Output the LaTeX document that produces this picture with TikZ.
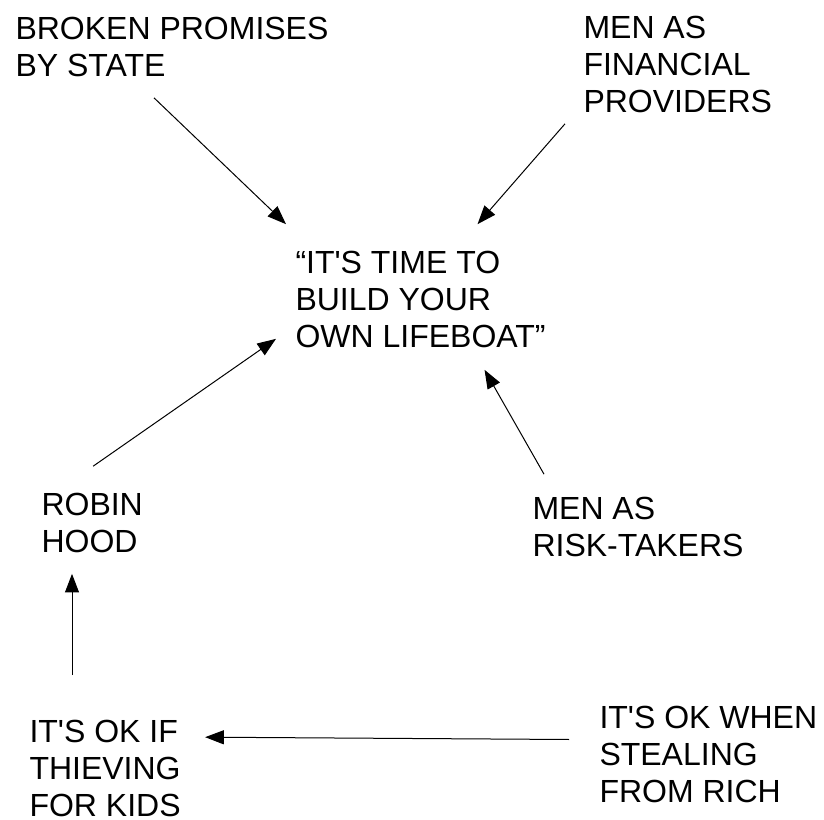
\documentclass[tikz,border=0pt]{standalone}
\usepackage{fontspec}
\setmainfont{Liberation Sans}
\usepackage{tikz}
\usetikzlibrary{arrows.meta}
\tikzset{every picture/.style={line width=0.75pt}}
\tikzset{idea/.style={inner sep=0pt, anchor=base west, align=left, font=\fontsize{24}{27.75}\selectfont},
  arr/.style={-{Triangle[length=14pt,width=10.5pt]}}}
\newcommand{\ap}{\textquotesingle}

\begin{document}
\begin{tikzpicture}[x=0.75pt,y=0.75pt,yscale=-1,xscale=1]
%set diagram size
\path[use as bounding box] (0,0) rectangle (824,819);

%Text nodes (placed at baseline of last line)
\node[idea] (broken) at (15,76) {BROKEN PROMISES\\BY STATE};
\node[idea] (provid) at (583,112) {MEN AS\\FINANCIAL\\PROVIDERS};
\node[idea] (lifeboat) at (295,347) {“IT\ap S TIME TO\\BUILD YOUR\\OWN LIFEBOAT”};
\node[idea] (robin) at (41,552) {ROBIN\\HOOD};
\node[idea] (risk) at (532,556) {MEN AS\\RISK-TAKERS};
\node[idea] (kidsok) at (29,816) {IT\ap S OK IF\\THIEVING\\FOR KIDS};
\node[idea] (rich) at (599,802) {IT\ap S OK WHEN\\STEALING\\FROM RICH};

%Arrows
\draw[arr] ([shift={(-18,21)}]broken.south) -- ([shift={(-9,-26)}]lifeboat.north west);
\draw[arr] ([shift={(-18,11)}]provid.south west) -- ([shift={(57,-26)}]lifeboat.north);
\draw[arr] ([shift={(1,-26)}]robin.north) -- ([shift={(-19,-9)}]lifeboat.south west);
\draw[arr] ([shift={(12,-22)}]risk.north west) -- ([shift={(64,22)}]lifeboat.south);
\draw[arr] ([shift={(43,-44)}]kidsok.north west) -- ([shift={(31,21)}]robin.south west);
\draw[arr] ([shift={(-30,-14.5)}]rich.west) -- ([shift={(24,18)}]kidsok.north east);

\end{tikzpicture}
\end{document}
